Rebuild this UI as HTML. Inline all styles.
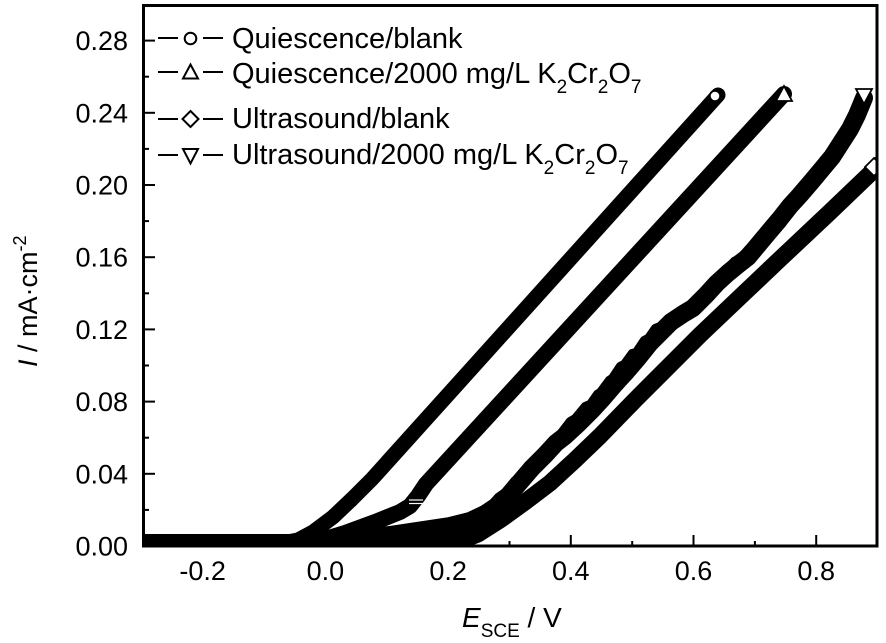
<!DOCTYPE html>
<html><head><meta charset="utf-8"><style>
html,body{margin:0;padding:0;background:#fff;}
svg{display:block;}
text{font-family:"Liberation Sans",Arial,sans-serif;fill:#000;}
</style></head><body>
<svg width="886" height="643" viewBox="0 0 886 643" xmlns="http://www.w3.org/2000/svg">
<defs><clipPath id="pc"><rect x="143" y="5" width="734" height="541"/></clipPath></defs>
<rect width="886" height="643" fill="#fff"/>
<g clip-path="url(#pc)" fill="none" stroke="#000" stroke-linejoin="round" stroke-linecap="round">
<!-- Ultrasound/blank -->
<polyline stroke-width="17" points="143,543 440,543 460,541 478,534 500,520 525,502 550,483 575,460 600,436 635,400 670,365 700,335 740,297 779,260 830,212 877,167 895,150"/>
<!-- Ultrasound/2000 (noisy) -->
<polyline stroke-width="18" points="143,543 300,543 340,540 390,535 450,526 470,521 485,514 497,506 508,496 520,482 532,468 545,455 556,443 565,436 578,424 592,410 603,398 615,384 626,372 638,358 650,343 661,332 671,322 683,314 693,308 706,295 717,283 728,273 739,264 748,257 758,245 768,233 779,220 790,206 800,195 812,181 822,169 832,157 841,143 850,129 857,115 864,98"/>
<polyline stroke-width="8" points="470,516 484,509 490,506 498,497 505,492 514,481 520,476 528,465 534,462 542,451 548,448 556,437 560,434 570,421 575,418 585,406 590,404 597,394 600,392 609,380 612,378 620,366 624,364 632,353 636,352 644,340 648,338 655,328 660,326 668,320 674,318 682,309 688,306 696,299 700,296 708,286 712,283 720,274 726,270 734,261 740,258 748,249 752,246 760,236 764,232 771,223 776,218 784,208 790,202 798,192 804,186 811,176 816,170 823,160 828,154 835,144 840,138 845,128 850,122 855,112 860,104"/>
<!-- Quiescence/2000 -->
<polyline stroke-width="16" points="143,543 300,543 322,540 345,533 375,522 400,512 410,506 418,496 426,484 784,94"/>
<!-- Quiescence/blank -->
<polyline stroke-width="15" points="143,543 282,543 298,540 313,532 333,517 352,499 372,479 718,95"/>
</g>
<!-- white marks -->
<g stroke="#fff" stroke-width="1.2">
<line x1="409" y1="500" x2="423" y2="500"/>
<line x1="409" y1="503.5" x2="423" y2="503.5"/>
</g>
<!-- end markers -->
<g stroke="#000" stroke-width="1.8" fill="#fff" clip-path="url(#pc)">
<circle cx="715" cy="96" r="5.2"/>
<polygon points="784,86 776,101 792,101"/>
<polygon points="856,89 872,89 864,104"/>
<polygon points="874,158 883,167 874,176 865,167"/>
</g>
<!-- frame -->
<rect x="143.5" y="5.5" width="733.5" height="540.5" fill="none" stroke="#000" stroke-width="3"/>
<!-- y ticks -->
<g stroke="#000" stroke-width="2">
<line x1="143" y1="473.8" x2="155" y2="473.8"/>
<line x1="143" y1="401.6" x2="155" y2="401.6"/>
<line x1="143" y1="329.4" x2="155" y2="329.4"/>
<line x1="143" y1="257.2" x2="155" y2="257.2"/>
<line x1="143" y1="185" x2="155" y2="185"/>
<line x1="143" y1="112.8" x2="155" y2="112.8"/>
<line x1="143" y1="40.6" x2="155" y2="40.6"/>
<line x1="143" y1="509.9" x2="149" y2="509.9"/>
<line x1="143" y1="437.7" x2="149" y2="437.7"/>
<line x1="143" y1="365.5" x2="149" y2="365.5"/>
<line x1="143" y1="293.3" x2="149" y2="293.3"/>
<line x1="143" y1="221.1" x2="149" y2="221.1"/>
<line x1="143" y1="148.9" x2="149" y2="148.9"/>
<line x1="143" y1="76.7" x2="149" y2="76.7"/>
<!-- x ticks -->
<line x1="202.7" y1="546" x2="202.7" y2="535"/>
<line x1="325.4" y1="546" x2="325.4" y2="535"/>
<line x1="448.1" y1="546" x2="448.1" y2="535"/>
<line x1="570.8" y1="546" x2="570.8" y2="535"/>
<line x1="693.5" y1="546" x2="693.5" y2="535"/>
<line x1="816.2" y1="546" x2="816.2" y2="535"/>
<line x1="264" y1="546" x2="264" y2="541"/>
<line x1="386.8" y1="546" x2="386.8" y2="541"/>
<line x1="509.5" y1="546" x2="509.5" y2="541"/>
<line x1="632.2" y1="546" x2="632.2" y2="541"/>
<line x1="754.9" y1="546" x2="754.9" y2="541"/>
</g>
<!-- y tick labels -->
<g font-size="27" text-anchor="end">
<text x="128" y="555.5">0.00</text>
<text x="128" y="483.3">0.04</text>
<text x="128" y="411.1">0.08</text>
<text x="128" y="338.9">0.12</text>
<text x="128" y="266.7">0.16</text>
<text x="128" y="194.5">0.20</text>
<text x="128" y="122.3">0.24</text>
<text x="128" y="50.1">0.28</text>
</g>
<!-- x tick labels -->
<g font-size="27" text-anchor="middle">
<text x="202.7" y="580">-0.2</text>
<text x="325.4" y="580">0.0</text>
<text x="448.1" y="580">0.2</text>
<text x="570.8" y="580">0.4</text>
<text x="693.5" y="580">0.6</text>
<text x="816.2" y="580">0.8</text>
</g>
<!-- x title -->
<text x="462" y="627" font-size="28"><tspan font-style="italic">E</tspan><tspan font-size="19" dy="10">SCE</tspan><tspan dy="-10"> / V</tspan></text>
<!-- y title -->
<text transform="translate(37,367) rotate(-90)" font-size="27"><tspan font-style="italic">I</tspan> / mA·cm<tspan font-size="18" dy="-11">-2</tspan></text>
<!-- legend -->
<g stroke="#000" stroke-width="2" fill="none">
<line x1="158" y1="38" x2="178" y2="38"/><line x1="203" y1="38" x2="223" y2="38"/>
<line x1="158" y1="72" x2="178" y2="72"/><line x1="203" y1="72" x2="223" y2="72"/>
<line x1="158" y1="119" x2="178" y2="119"/><line x1="203" y1="119" x2="223" y2="119"/>
<line x1="158" y1="155" x2="178" y2="155"/><line x1="203" y1="155" x2="223" y2="155"/>
<circle cx="190.5" cy="38.5" r="5.8" fill="#fff"/>
<polygon points="190.5,64.5 183,78.5 198,78.5" fill="#fff"/>
<polygon points="190.5,111 198.5,119 190.5,127 182.5,119" fill="#fff"/>
<polygon points="183,149 198,149 190.5,163.5" fill="#fff"/>
</g>
<g font-size="29">
<text x="232" y="48">Quiescence/blank</text>
<text x="232" y="83">Quiescence/2000 mg/L K<tspan font-size="19" dy="10">2</tspan><tspan dy="-10">Cr</tspan><tspan font-size="19" dy="10">2</tspan><tspan dy="-10">O</tspan><tspan font-size="19" dy="10">7</tspan></text>
<text x="232" y="128">Ultrasound/blank</text>
<text x="232" y="164">Ultrasound/2000 mg/L K<tspan font-size="19" dy="10">2</tspan><tspan dy="-10">Cr</tspan><tspan font-size="19" dy="10">2</tspan><tspan dy="-10">O</tspan><tspan font-size="19" dy="10">7</tspan></text>
</g>
</svg>
</body></html>
